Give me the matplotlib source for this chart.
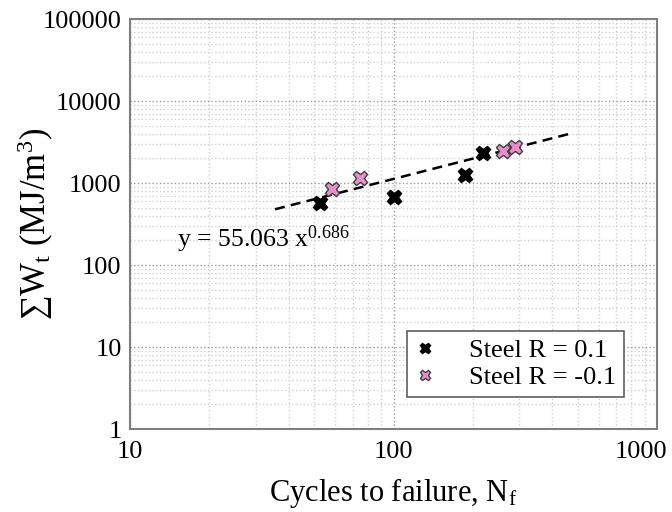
import numpy as np
import matplotlib

matplotlib.use("Agg")
import matplotlib.pyplot as plt
from matplotlib.transforms import ScaledTranslation

# cycles to failure and total strain energy density (MJ/m^3)
steel_r01_cycles = [52.6, 100, 187, 219]
steel_r01_energy = [565, 681, 1252, 2302]

steel_rm01_cycles = [58.3, 74.6, 261, 289]
steel_rm01_energy = [838, 1161, 2478, 2725]

# dashed trend line end points
trend_cycles = [35.5, 474]
trend_energy = [478, 4037]

x_ticks = [10, 100, 1000]
y_ticks = [1, 10, 100, 1000, 10000, 100000]

plt.rcParams["font.family"] = ["Liberation Serif", "DejaVu Serif"]
plt.rcParams["mathtext.fontset"] = "stix"
plt.rcParams["mathtext.default"] = "regular"

fig = plt.figure(figsize=(6.72, 5.12), dpi=100)
ax = fig.add_axes([130 / 672, 83 / 512, 527 / 672, 410 / 512])

ax.plot(trend_cycles, trend_energy, "--", color="black", lw=1.8, dashes=(4, 2.5), zorder=3)

ax.plot(steel_r01_cycles, steel_r01_energy, "X", color="black", mec="black",
        mew=1.0, ms=10.5, ls="none", label="Steel R = 0.1", zorder=4)
ax.plot(steel_rm01_cycles, steel_rm01_energy, "X", color="#e58fcb", mec="#404040",
        mew=1.0, ms=10.5, ls="none", label="Steel R = -0.1", zorder=4)

ax.set_xscale("log")
ax.set_yscale("log")
ax.set_xlim(10, 1000)
ax.set_ylim(1, 100000)
ax.set_xticks(x_ticks)
ax.set_xticklabels([str(v) for v in x_ticks])
ax.set_yticks(y_ticks)
ax.set_yticklabels([str(v) for v in y_ticks])

ax.grid(which="major", color="#9a9a9a", ls=":", lw=1.0)
ax.grid(which="minor", color="#d0d0d0", ls=":", lw=1.0)
ax.tick_params(which="both", length=0, labelsize=19)
ax.tick_params(axis="x", pad=9)
ax.tick_params(axis="y", pad=6)

# last x label sits a bit left of its tick so it stays inside the figure
last = ax.get_xticklabels()[-1]
last.set_transform(last.get_transform() + ScaledTranslation(-0.16, 0, fig.dpi_scale_trans))

for s in ax.spines.values():
    s.set_color("#7f7f7f")
    s.set_linewidth(1.5)

ax.set_xlabel("Cycles to failure, N$_f$", fontsize=22)
ax.xaxis.set_label_coords(0.5, -0.115)
ax.set_ylabel("∑W$_t$ (MJ/m$^3$)", fontsize=25)
ax.yaxis.set_label_coords(-0.14, 0.5)

ax.text(0.089, 0.444, "y = 55.063 x$^{0.686}$", transform=ax.transAxes,
        fontsize=18.5, ha="left", va="baseline")

leg = ax.legend(loc="lower right", bbox_to_anchor=(0.937, 0.078), fontsize=19,
                fancybox=False, framealpha=1, edgecolor="#606060",
                handletextpad=1.25, borderpad=0.3, labelspacing=0.12,
                borderaxespad=0, markerscale=0.75, handlelength=0.8)
leg.get_frame().set_linewidth(1.2)

fig.savefig("out.png", dpi=100)
